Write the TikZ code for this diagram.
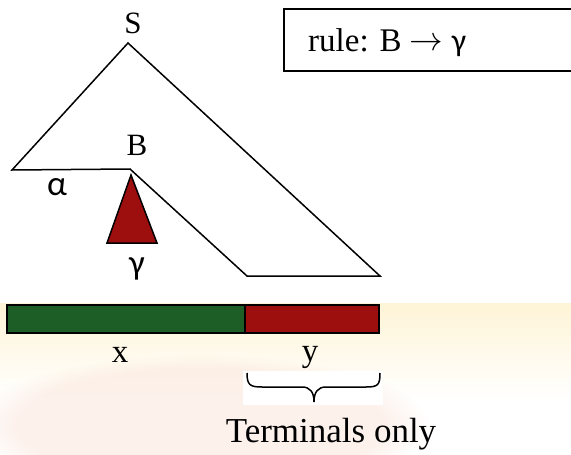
\documentclass[tikz,border=0pt]{standalone}
\usepackage{fontspec}
\setmainfont{Liberation Serif}
\newfontfamily\grkfont{Carlito}
\usetikzlibrary{fadings}
\definecolor{barGreen}{HTML}{1D5E26}
\definecolor{barRed}{HTML}{9C0F0E}
\definecolor{creamC}{HTML}{FEF4D6}
\definecolor{peachC}{HTML}{FBE6DC}
\tikzset{
  outline/.style={line width=1.5pt, line join=miter},
  lbl/.style={inner sep=0pt, anchor=base, font=\fontsize{31}{35}\selectfont},
  varlbl/.style={inner sep=0pt, anchor=base, font=\fontsize{33}{38}\selectfont},
  grklbl/.style={inner sep=0pt, anchor=base, font=\grkfont\fontsize{35}{40}\selectfont},
}
\begin{document}
\begin{tikzpicture}[x=1pt,y=-1pt]
\useasboundingbox (0,0) rectangle (571,455);
% faint background
\shade[top color=creamC, bottom color=white] (0,303) rectangle (571,400);
\fill[peachC, path fading=circle with fuzzy edge 20 percent, opacity=0.55] (200,425) ellipse [x radius=230, y radius=70];
\fill[white] (243,371) rectangle (383,405);
\fill[white] (0,290) rectangle (385,303);
% rule box
\draw[outline] (284,9) rectangle (580,71);
\node[inner sep=0pt, anchor=base west, font=\fontsize{33}{37}\selectfont] (rule) at (308,51) {rule: B \raisebox{1pt}{\scalebox{1.35}{$\rightarrow$}} {\grkfont\fontsize{32}{36}\selectfont γ}};
% parse tree outline
\coordinate (apex) at (128,43);
\coordinate (lft) at (12,170);
\coordinate (bc) at (130,169);
\coordinate (inner) at (247,276);
\coordinate (rgt) at (380,276);
\draw[outline] (apex) -- (lft) -- (bc) -- (inner) -- (rgt) -- cycle;
% subtree gamma
\coordinate (ta) at (131,175);
\coordinate (tl) at (107,243);
\coordinate (tr) at (157,243);
\draw[outline, fill=barRed] (ta) -- (tl) -- (tr) -- cycle;
% labels
\node[lbl] (S) at (133,33) {S};
\node[lbl] (B) at (137,155) {B};
\node[grklbl] (alpha) at (57,195) {α};
\node[grklbl] (gamma) at (137,274) {γ};
% string bar
\draw[outline, fill=barGreen] (7,305) rectangle (245,333);
\draw[outline, fill=barRed] (245,305) rectangle (379,333);
\node[varlbl] (x) at (120,362) {x};
\node[varlbl] (y) at (310,361) {y};
% brace
\draw[line width=1.5pt] (247,373) .. controls (247,385) and (250,387) .. (262,387) -- (302,387)
  .. controls (310,387) and (314,392) .. (314,402)
  .. controls (314,392) and (318,387) .. (326,387) -- (366,387)
  .. controls (378,387) and (380,385) .. (380,373);
\node[inner sep=0pt, anchor=base, font=\fontsize{35}{40}\selectfont] (term) at (331,442) {Terminals only};
\end{tikzpicture}
\end{document}
